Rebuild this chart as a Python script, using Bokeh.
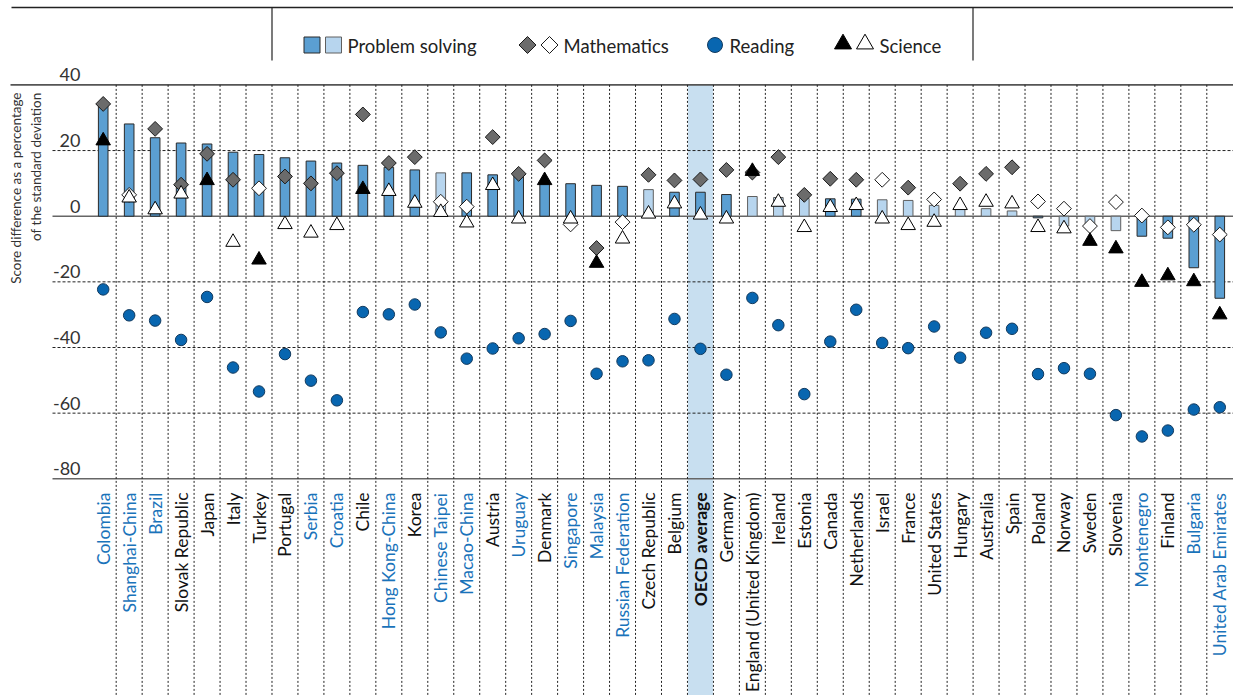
import math
from bokeh.plotting import figure
from bokeh.models import Range1d, ColumnDataSource
from bokeh.embed import file_html
from bokeh.resources import INLINE
from bokeh.core.properties import value

# ---------------- data ----------------
countries = ["Colombia", "Shanghai-China", "Brazil", "Slovak Republic", "Japan", "Italy", "Turkey",
             "Portugal", "Serbia", "Croatia", "Chile", "Hong Kong-China", "Korea", "Chinese Taipei",
             "Macao-China", "Austria", "Uruguay", "Denmark", "Singapore", "Malaysia",
             "Russian Federation", "Czech Republic", "Belgium", "OECD average", "Germany",
             "England (United Kingdom)", "Ireland", "Estonia", "Canada", "Netherlands", "Israel",
             "France", "United States", "Hungary", "Australia", "Spain", "Poland", "Norway",
             "Sweden", "Slovenia", "Montenegro", "Finland", "Bulgaria", "United Arab Emirates"]
partner = [1, 1, 1, 0, 0, 0, 0, 0, 1, 1, 0, 1, 0, 1, 1, 0, 1, 0, 1, 1, 1, 0, 0, 0, 0, 0, 0, 0,
           0, 0, 0, 0, 0, 0, 0, 0, 0, 0, 0, 0, 1, 0, 1, 1]

problem_solving = [34.0, 28.1, 23.9, 22.3, 22.0, 19.5, 18.8, 17.8, 16.8, 16.2, 15.5, 14.9, 14.1,
                   13.2, 13.2, 12.6, 12.5, 10.2, 9.9, 9.4, 9.1, 8.1, 7.3, 7.3, 6.6, 6.0, 5.7, 5.4,
                   5.3, 5.2, 5.0, 4.8, 3.3, 2.4, 2.3, 1.6, -0.5, -3.0, -3.3, -4.4, -6.1, -6.7,
                   -15.7, -25.0]
ps_significant = [1, 1, 1, 1, 1, 1, 1, 1, 1, 1, 1, 1, 1, 0, 1, 1, 1, 1, 1, 1, 1, 0, 1, 1, 1, 0,
                  0, 0, 1, 1, 0, 0, 0, 0, 0, 0, 1, 0, 0, 0, 1, 1, 1, 1]

mathematics = [34.2, 6.5, 26.6, 9.6, 19.0, 11.1, 8.5, 12.1, 10.0, 13.1, 31.0, 16.2, 18.0, 4.4,
               2.9, 24.1, 12.9, 17.0, -2.5, -9.7, -1.8, 12.6, 10.9, 11.2, 14.1, 13.3, 18.0, 6.5,
               11.4, 11.1, 11.1, 8.7, 5.1, 9.9, 12.9, 14.9, 4.5, 2.3, -3.0, 4.3, 0.2, -3.4, -2.6,
               -5.6]
math_significant = [1, 0, 1, 1, 1, 1, 0, 1, 1, 1, 1, 1, 1, 0, 0, 1, 1, 1, 0, 1, 0, 1, 1, 1, 1,
                    1, 1, 1, 1, 1, 0, 1, 0, 1, 1, 1, 0, 0, 0, 0, 0, 0, 0, 0]

reading = [-22.3, -30.2, -31.8, -37.7, -24.6, -46.1, -53.4, -42.0, -50.1, -56.1, -29.2, -29.9,
           -26.9, -35.4, -43.4, -40.3, -37.2, -35.9, -31.9, -48.0, -44.2, -43.9, -31.3, -40.4,
           -48.3, -24.9, -33.2, -54.2, -38.2, -28.5, -38.6, -40.2, -33.6, -43.1, -35.5, -34.3,
           -48.1, -46.3, -48.0, -60.6, -67.1, -65.3, -58.9, -58.2]

science = [23.0, 5.6, 2.0, 6.8, 10.9, -7.9, -13.3, -2.5, -5.1, -2.8, 8.2, 7.6, 4.0, 1.2, -2.0,
           9.4, -0.8, 10.9, -0.8, -14.3, -6.9, 0.7, 3.8, 0.4, -0.8, 13.7, 4.3, -3.4, 2.7, 3.3,
           -0.8, -2.8, -1.8, 3.3, 4.3, 3.8, -3.4, -3.8, -7.6, -9.9, -20.1, -18.1, -19.9, -30.0]
sci_significant = [1, 0, 0, 0, 1, 0, 1, 0, 0, 0, 1, 0, 0, 0, 0, 0, 0, 1, 0, 1, 0, 0, 0, 0, 0, 1,
                   0, 0, 0, 0, 0, 0, 0, 0, 0, 0, 0, 0, 1, 1, 1, 1, 1, 1]

y_ticks = [40, 20, 0, -20, -40, -60, -80]
solid_lines = [0, -80]
dashed_lines = [20, -20, -40, -60]
y_title = ["Score difference as a percentage", "of the standard deviation"]
legend_labels = ["Problem solving", "Mathematics", "Reading", "Science"]
highlight = "OECD average"

# ---------------- geometry ----------------
W, H = 1233, 695
CX0, CW = 102.7, 25.967      # px of first category centre, px per category
Y0, YS = 215.7, 3.2825       # px of value 0, px per unit


def X(px):
    return (px - CX0) / CW


def Y(py):
    return (Y0 - py) / YS


def tick_width(s, fs=18.0):
    # approximate rendered width (Lato): tabular digits 0.58em, hyphen 0.37em
    return sum(0.37 * fs if ch == "-" else 0.58 * fs for ch in s)


FONT = value("Lato")
DARK_BAR, LIGHT_BAR = "#5b9fd2", "#b7d5ee"
BLUE_TXT = "#1a73ba"

n = len(countries)
idx = list(range(n))
x_start, x_end = X(0), X(W)
y_top, y_bot = Y(0), Y(H)

p = figure(width=W, height=H, output_backend="svg", toolbar_location=None,
           x_range=Range1d(x_start, x_end), y_range=Range1d(y_bot, y_top),
           x_axis_location=None, y_axis_location=None,
           min_border=0, min_border_left=0, min_border_right=0,
           min_border_top=0, min_border_bottom=0)
p.outline_line_color = None
p.grid.visible = False
p.background_fill_color = "white"

# OECD average band
hi = countries.index(highlight)
p.quad(left=[hi - 0.48], right=[hi + 0.48], top=[y_ticks[0]], bottom=[y_bot],
       fill_color="#c8dff0", line_color=None)

# horizontal lines
p.segment(x0=[X(10)], x1=[x_end], y0=[y_ticks[0]], y1=[y_ticks[0]], line_color="#555555", line_width=1.6)
p.segment(x0=[X(52)] * len(solid_lines), x1=[x_end] * len(solid_lines), y0=solid_lines, y1=solid_lines,
          line_color="#666666", line_width=1.6)
p.segment(x0=[X(52)] * len(dashed_lines), x1=[x_end] * len(dashed_lines), y0=dashed_lines, y1=dashed_lines,
          line_color="#222222", line_width=1, line_dash="3 2")

# vertical separators
vx = [i + 0.5 for i in range(n - 1)]
p.segment(x0=vx, x1=vx, y0=[y_ticks[0]] * len(vx), y1=[y_bot] * len(vx),
          line_color="#222222", line_width=1, line_dash="2 2")

# bars
bar_src = ColumnDataSource(dict(
    x=idx, top=problem_solving, bottom=[0] * n,
    fill=[DARK_BAR if s else LIGHT_BAR for s in ps_significant],
    line=["#2a2a2a" if s else "#606060" for s in ps_significant]))
p.vbar(x="x", width=0.37, top="top", bottom="bottom", fill_color="fill", line_color="line",
       line_width=1, source=bar_src)

# reading
p.scatter(idx, reading, marker="circle", size=11.5, fill_color="#0866b0", line_color="#123a5e", line_width=1)

# mathematics
p.scatter(idx, mathematics, marker="square", angle=math.pi / 4, size=10.5,
          fill_color=["#6b6b6b" if s else "white" for s in math_significant],
          line_color="#1a1a1a", line_width=1)

# science
p.scatter(idx, science, marker="triangle", size=14.5,
          fill_color=["black" if s else "white" for s in sci_significant],
          line_color="black", line_width=1)

# y tick labels (right edge at 80px, drawn left-aligned from their estimated width)
tick_txt = [str(t) for t in y_ticks]
p.text(x=[X(80 - tick_width(s)) for s in tick_txt], y=y_ticks, text=tick_txt, text_align="left",
       text_baseline="middle", y_offset=-10, text_font=FONT, text_font_size="18px",
       text_color="#333333")

# y title
p.text(x=[X(15.5), X(35)], y=[Y(92), Y(92)], text=y_title, angle=math.pi / 2, text_align="right",
       text_baseline="middle", text_font=FONT, text_font_size="13.5px", text_color="#333333")

# category labels
normal = [i for i in idx if countries[i] != highlight]
p.text(x=normal, y=[Y(492)] * len(normal), text=[countries[i] for i in normal], angle=math.pi / 2,
       text_align="right", text_baseline="middle", text_font=FONT, text_font_size="17.5px",
       text_color=[BLUE_TXT if partner[i] else "#111111" for i in normal])
p.text(x=[hi], y=[Y(492)], text=[highlight], angle=math.pi / 2, text_align="right",
       text_baseline="middle", text_font=FONT, text_font_size="17.5px", text_font_style="bold",
       text_color="#111111")

# header frame
p.segment(x0=[X(11)], x1=[x_end], y0=[Y(7)], y1=[Y(7)], line_color="#222222", line_width=1.5)
p.segment(x0=[X(271.5), X(972.5)], x1=[X(271.5), X(972.5)], y0=[Y(7), Y(7)], y1=[Y(60), Y(60)],
          line_color="#222222", line_width=1.2)

# legend
ly = Y(44.5)
p.scatter([X(311.5)], [ly], marker="square", size=16, fill_color=DARK_BAR, line_color="#2a2a2a")
p.scatter([X(333)], [ly], marker="square", size=16, fill_color=LIGHT_BAR, line_color="#606060")
p.scatter([X(527)], [ly], marker="square", angle=math.pi / 4, size=12, fill_color="#6b6b6b", line_color="#1a1a1a")
p.scatter([X(549)], [ly], marker="square", angle=math.pi / 4, size=12, fill_color="white", line_color="#1a1a1a")
p.scatter([X(714.5)], [ly], marker="circle", size=15, fill_color="#0866b0", line_color="#123a5e")
p.scatter([X(842.5)], [Y(43.5)], marker="triangle", size=17, fill_color="black", line_color="black")
p.scatter([X(864.5)], [Y(43.5)], marker="triangle", size=17, fill_color="white", line_color="black")
p.text(x=[X(347), X(563), X(729), X(879)], y=[Y(45)] * 4, text=legend_labels, text_align="left",
       text_baseline="middle", text_font=FONT, text_font_size="18.5px", text_color="#222222")

open("out.html", "w").write(file_html(p, INLINE))
